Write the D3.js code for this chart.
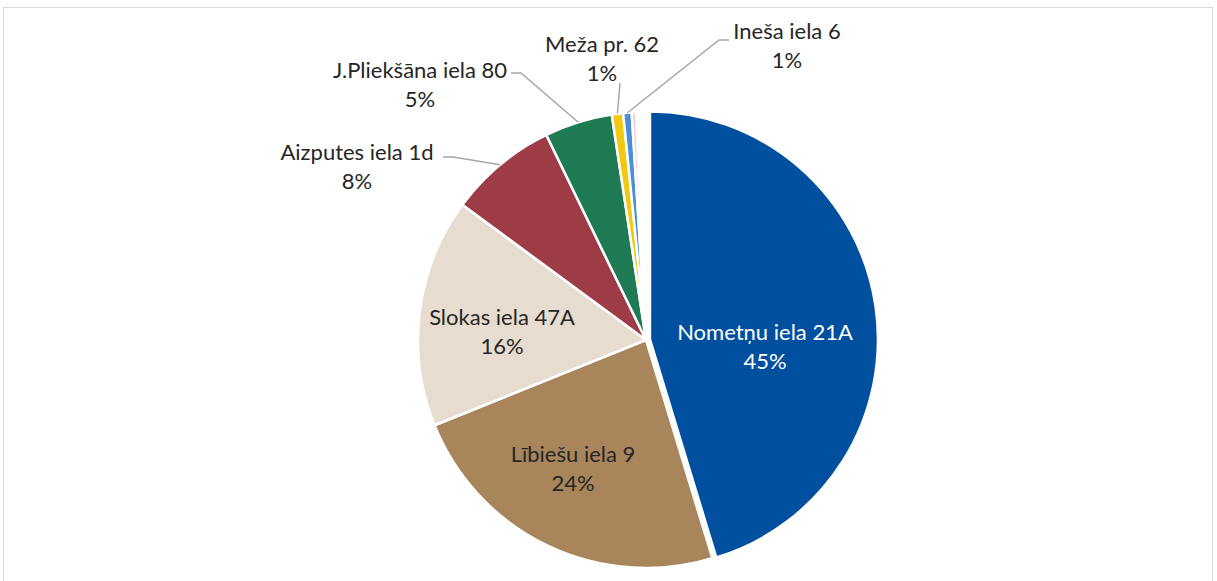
<!DOCTYPE html>
<html>
<head>
<meta charset="utf-8">
<script src="https://cdn.jsdelivr.net/npm/d3@7"></script>
<style>
  body { margin: 0; background: #fff; }
  text { font-family: Lato, "Open Sans", sans-serif; }
</style>
</head>
<body>
<svg id="chart"></svg>
<script>
// dati
const adreses = ["Nometņu iela 21A", "Lībiešu iela 9", "Slokas iela 47A", "Aizputes iela 1d",
  "J.Pliekšāna iela 80", "Meža pr. 62", "Ineša iela 6", "", ""];
const vertibas = [45.3, 23.6, 16.2, 7.7, 4.8, 0.8, 0.6, 0.3, 0.7];
const krasas = ["#00509f", "#a8855a", "#e7dcd0", "#9d3b47", "#1e7a52", "#f2c811", "#4a8fd8", "#f3c5d5", "#ffffff"];

const width = 1217, height = 581;
const cx = 646, cy = 340, r = 228;

// etiķešu izvietojums (x, y) un vai ir līnija
const etikPoz = [
  { x: 765, y: 340, ieksa: true, fill: "#fff" },
  { x: 573, y: 462, ieksa: true },
  { x: 502, y: 325, ieksa: true },
  { x: 357, y: 160, ieksa: false, lx: 443, ly: 157 },
  { x: 420, y: 78, ieksa: false, lx: 511, ly: 73 },
  { x: 602, y: 52, ieksa: false, lx: 620, ly: 83, vert: true },
  { x: 787, y: 39, ieksa: false, lx: 729, ly: 40 },
  null, null
];

const svg = d3.select("#chart").attr("width", width).attr("height", height);

svg.append("rect")
  .attr("x", 3.5).attr("y", 7.5)
  .attr("width", 1209).attr("height", 600)
  .attr("fill", "#fff")
  .attr("stroke", "#d9d9d9");

const total = d3.sum(vertibas);
const dati = adreses.map((a, i) => ({ nosaukums: a, v: vertibas[i], krasa: krasas[i], poz: etikPoz[i] }));

const pie = d3.pie().sort(null).value(d => d.v);
const arc = d3.arc().innerRadius(0).outerRadius(r);
const loki = pie(dati);

const g = svg.append("g").attr("transform", `translate(${cx},${cy})`);

g.selectAll("path")
  .data(loki)
  .join("path")
  .attr("d", arc)
  .attr("fill", d => d.data.krasa)
  .attr("stroke", "#fff")
  .attr("stroke-width", 2.5)
  .attr("transform", (d, i) => {
    // pirmais sektors nedaudz izvirzīts
    if (i !== 0) return null;
    const a = (d.startAngle + d.endAngle) / 2;
    return `translate(${4 * Math.sin(a)},${-4 * Math.cos(a)})`;
  });

const fmt = v => Math.round(v / total * 100) + "%";

// līnijas uz mazajiem sektoriem
loki.forEach(d => {
  const p = d.data.poz;
  if (!p || p.ieksa) return;
  const a = (d.startAngle + d.endAngle) / 2;
  const ex = cx + r * Math.sin(a), ey = cy - r * Math.cos(a);
  let pts;
  if (p.vert) pts = [[p.lx, p.ly], [ex, ey]];
  else {
    const dir = p.lx < ex ? 1 : -1;
    pts = [[p.lx, p.ly], [p.lx + dir * 10, p.ly], [ex, ey]];
  }
  svg.append("path")
    .attr("d", d3.line()(pts))
    .attr("fill", "none")
    .attr("stroke", "#a6a6a6")
    .attr("stroke-width", 1.5);
});

// etiķetes
loki.forEach(d => {
  const p = d.data.poz;
  if (!p) return;
  const t = svg.append("text")
    .attr("x", p.x).attr("y", p.y)
    .attr("text-anchor", "middle")
    .attr("font-size", 22)
    .attr("fill", p.fill || "#262626");
  t.append("tspan").attr("x", p.x).attr("dy", 0).text(d.data.nosaukums);
  t.append("tspan").attr("x", p.x).attr("dy", 29).text(fmt(d.data.v));
});
</script>
</body>
</html>
